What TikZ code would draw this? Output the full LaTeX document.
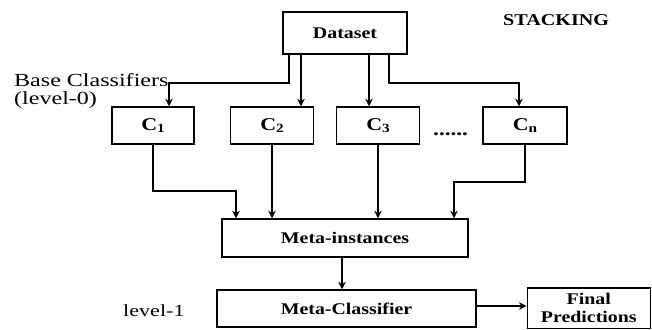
\documentclass[tikz,border=0pt]{standalone}
\usepackage{fontspec}
\setmainfont{Liberation Serif}[FakeStretch=1.22]
\newfontfamily\myregfont{Liberation Serif}[FakeStretch=1.3]
\usetikzlibrary{arrows.meta}
\newcommand\mycsub[1]{\raisebox{-1.5pt}{\fontsize{12.5}{14}\selectfont #1}}
\begin{document}
\begin{tikzpicture}[x=1pt,y=-1pt]
\tikzset{
 box/.style={draw, line width=1.5pt, inner sep=0pt, font=\fontsize{16.3}{17.7}\selectfont\bfseries, align=center},
 cbox/.style={box, minimum height=37, font=\fontsize{18}{20}\selectfont\bfseries},
 arr/.style={line width=1.4pt, -{Stealth[length=7.5pt,width=7.5pt]}},
 lbl/.style={inner sep=0pt, anchor=base west},
}
\useasboundingbox (0,0) rectangle (652,329);
% boxes
\node[box, minimum width=124, minimum height=42] (ds) at (345,33) {Dataset};
\node[cbox, minimum width=82] (c1) at (153,125.5) {C\mycsub{1}};
\node[cbox, minimum width=83] (c2) at (272,125.5) {C\mycsub{2}};
\node[cbox, minimum width=83] (c3) at (378,125.5) {C\mycsub{3}};
\node[cbox, minimum width=84] (cn) at (525,125.5) {C\mycsub{n}};
\node[box, minimum width=246, minimum height=38] (mi) at (345,238) {Meta-instances};
\node[box, minimum width=259, minimum height=37] (mc) at (346.5,308.5) {Meta-Classifier};
\node[box, minimum width=123, minimum height=40.5] (fp) at (588.75,308) {Final\\Predictions};
% labels
\node[lbl, font=\fontsize{16.5}{18}\selectfont\bfseries] (stk) at (503,26) {STACKING};
\node[lbl, font=\myregfont\fontsize{18.5}{19}\selectfont] (bc) at (14,86) {Base Classifiers};
\node[lbl, font=\myregfont\fontsize{18.5}{19}\selectfont] (l0) at (14,104.5) {(level-0)};
\node[lbl, font=\myregfont\fontsize{17}{19}\selectfont] (l1) at (123,316) {level-1};
\node[lbl, font=\fontsize{19}{20}\selectfont\bfseries] (dots) at (433,135) {......};
% helper coordinates
\coordinate (a1) at (289,0);
\coordinate (a2) at (301,0);
\coordinate (a3) at (369,0);
\coordinate (a4) at (389,0);
\coordinate (t1) at (169,0);
\coordinate (tn) at (519,0);
\coordinate (ya) at (0,83);
\coordinate (yb) at (0,191);
\coordinate (yc) at (0,182);
\coordinate (m1) at (236,0);
\coordinate (mn) at (454,0);
\coordinate (mo) at (342,0);
\coordinate (yf) at (0,306);
% connectors
\draw[arr] (ds.south -| a1) -- (a1 |- ya) -| (c1.north -| t1);
\draw[arr] (ds.south -| a2) -- (c2.north -| a2);
\draw[arr] (ds.south -| a3) -- (c3.north -| a3);
\draw[arr] (ds.south -| a4) -- (a4 |- ya) -| (cn.north -| tn);
\draw[arr] (c1.south) -- (c1.south |- yb) -| (mi.north -| m1);
\draw[arr] (c2.south) -- (mi.north -| c2.south);
\draw[arr] (c3.south) -- (mi.north -| c3.south);
\draw[arr] (cn.south) -- (cn.south |- yc) -| (mi.north -| mn);
\draw[arr] (mi.south -| mo) -- (mc.north -| mo);
\draw[arr] (mc.east |- yf) -- (fp.west |- yf);
\end{tikzpicture}
\end{document}
